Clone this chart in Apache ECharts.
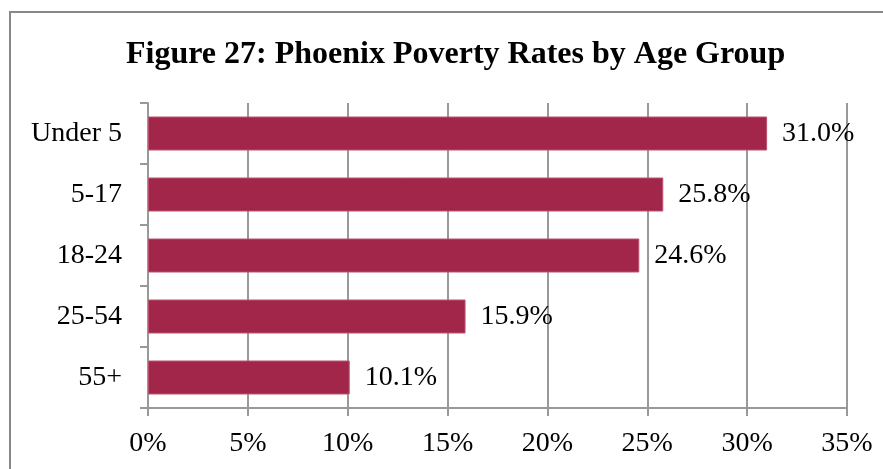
<!DOCTYPE html>
<html>
<head>
<meta charset="utf-8">
<script src="https://cdn.jsdelivr.net/npm/echarts@6/dist/echarts.min.js"></script>
<style>
  html, body { margin: 0; padding: 0; background: #fff; }
  #chart { width: 883px; height: 469px; }
</style>
</head>
<body>
<div id="chart"></div>
<script>
// data
var ageGroups = ['Under 5', '5-17', '18-24', '25-54', '55+'];
var povertyRates = [31.0, 25.8, 24.6, 15.9, 10.1];
var xTicks = [0, 5, 10, 15, 20, 25, 30, 35];

var font = '"Liberation Serif", "Times New Roman", serif';
var gray = '#999';

var chart = echarts.init(document.getElementById('chart'));
chart.setOption({
    animation: false,
    title: {
        text: 'Figure 27: Phoenix Poverty Rates by Age Group',
        left: 121,
        top: 34,
        textStyle: { fontFamily: font, fontWeight: 'bold', fontSize: 32, color: '#000' }
    },
    graphic: [{
        type: 'rect',
        shape: { x: 10, y: 12, width: 900, height: 520 },
        style: { fill: 'none', stroke: '#888', lineWidth: 2 },
        silent: true
    }],
    grid: { left: 148, right: 36, top: 103, bottom: 61 },
    xAxis: {
        type: 'value',
        min: xTicks[0],
        max: xTicks[xTicks.length - 1],
        interval: 5,
        axisLine: { show: true, lineStyle: { color: gray, width: 2 } },
        axisTick: { show: true, length: 8, lineStyle: { color: gray, width: 2 } },
        splitLine: { show: true, lineStyle: { color: gray, width: 2 } },
        axisLabel: {
            margin: 22,
            fontFamily: font, fontSize: 28, color: '#000',
            formatter: function (v) { return v + '%'; }
        }
    },
    yAxis: {
        type: 'category',
        data: ageGroups,
        inverse: true,
        axisLine: { show: true, lineStyle: { color: gray, width: 2 } },
        axisTick: { show: true, length: 8, lineStyle: { color: gray, width: 2 } },
        axisLabel: { margin: 26, fontFamily: font, fontSize: 28, color: '#000' }
    },
    series: [{
        type: 'bar',
        data: povertyRates,
        barWidth: 34,
        itemStyle: { color: '#A2264A', borderColor: '#B85470', borderWidth: 1 },
        label: {
            show: true,
            position: 'right',
            distance: 15,
            fontFamily: font, fontSize: 28, color: '#000',
            formatter: function (p) { return p.value.toFixed(1) + '%'; }
        }
    }]
});
</script>
</body>
</html>
